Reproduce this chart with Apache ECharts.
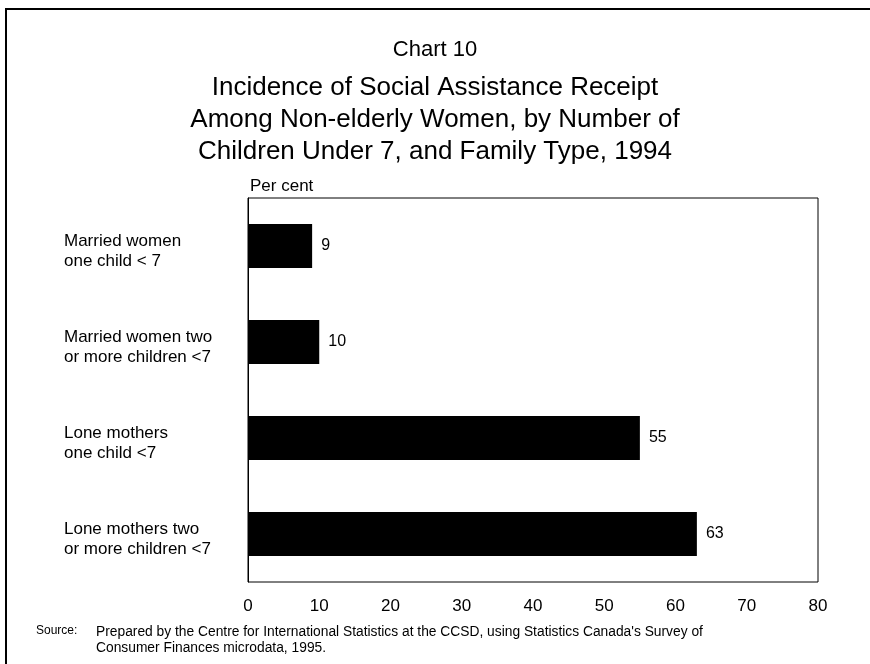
<!DOCTYPE html>
<html>
<head>
<meta charset="utf-8">
<script src="https://cdn.jsdelivr.net/npm/echarts@6/dist/echarts.min.js"></script>
<style>
html,body{margin:0;padding:0;background:#fff;}
#main{width:870px;height:664px;}
</style>
</head>
<body>
<div id="main"></div>
<script>
const categories = [
  "Married women\none child < 7",
  "Married women two\nor more children <7",
  "Lone mothers\none child <7",
  "Lone mothers two\nor more children <7"
];
const values = [9, 10, 55, 63];
const xTicks = [0, 10, 20, 30, 40, 50, 60, 70, 80];
const titleLines = [
  "Incidence of Social Assistance Receipt",
  "Among Non-elderly Women, by Number of",
  "Children Under 7, and Family Type, 1994"
];

const FONT = "'Liberation Sans', Arial, Helvetica, sans-serif";
const chart = echarts.init(document.getElementById('main'), null, {renderer: 'canvas'});
const titles = [{
  text: 'Chart 10', left: 'center', top: 38, padding: 0,
  textStyle: {fontFamily: FONT, fontWeight: 'normal', fontSize: 22, color: '#000', lineHeight: 24}
}];
titleLines.forEach((t, i) => titles.push({
  text: t, left: 'center', top: 73 + i * 32, padding: 0,
  textStyle: {fontFamily: FONT, fontWeight: 'normal', fontSize: 26, color: '#000', lineHeight: 30}
}));
chart.setOption({
  backgroundColor: '#fff',
  animation: false,
  title: titles,
  grid: {
    left: 248, top: 198, width: 570, height: 384,
    show: true, borderColor: '#000', borderWidth: 1, backgroundColor: 'transparent'
  },
  xAxis: {
    type: 'value', min: xTicks[0], max: xTicks[xTicks.length - 1], interval: 10,
    axisLine: {show: false}, axisTick: {show: false}, splitLine: {show: false},
    axisLabel: {fontFamily: FONT, fontSize: 17, color: '#000', margin: 16}
  },
  yAxis: {
    type: 'category', data: categories, inverse: true,
    axisLine: {show: true, lineStyle: {color: '#000', width: 1}}, axisTick: {show: false}, splitLine: {show: false},
    axisLabel: {
      align: 'left', margin: 184,
      formatter: function (v) {
        return '{s| }\n' + v.split('\n').map(l => '{a|' + l + '}').join('\n');
      },
      rich: {
        s: {fontSize: 1, lineHeight: 10, height: 10},
        a: {fontFamily: FONT, fontSize: 17, color: '#000', lineHeight: 20, align: 'left'}
      }
    }
  },
  series: [{
    type: 'bar', data: values, barWidth: 44,
    itemStyle: {color: '#000'},
    label: {show: true, position: 'right', distance: 9, fontFamily: FONT, fontSize: 16, color: '#000'}
  }],
  graphic: [
    {type: 'rect', shape: {x: 6, y: 9, width: 900, height: 700}, style: {fill: 'none', stroke: '#000', lineWidth: 2}, silent: true},
    {type: 'text', x: 250, y: 186, style: {text: 'Per cent', font: '17px ' + FONT, fill: '#000', textVerticalAlign: 'middle'}},
    {type: 'text', x: 36, y: 631, style: {text: 'Source:', font: '12px ' + FONT, fill: '#000', textVerticalAlign: 'middle'}},
    {type: 'text', x: 96, y: 624, style: {text: "Prepared by the Centre for International Statistics at the CCSD, using Statistics Canada's Survey of\nConsumer Finances microdata, 1995.", font: '13.8px ' + FONT, fill: '#000', lineHeight: 16}}
  ]
});
</script>
</body>
</html>
